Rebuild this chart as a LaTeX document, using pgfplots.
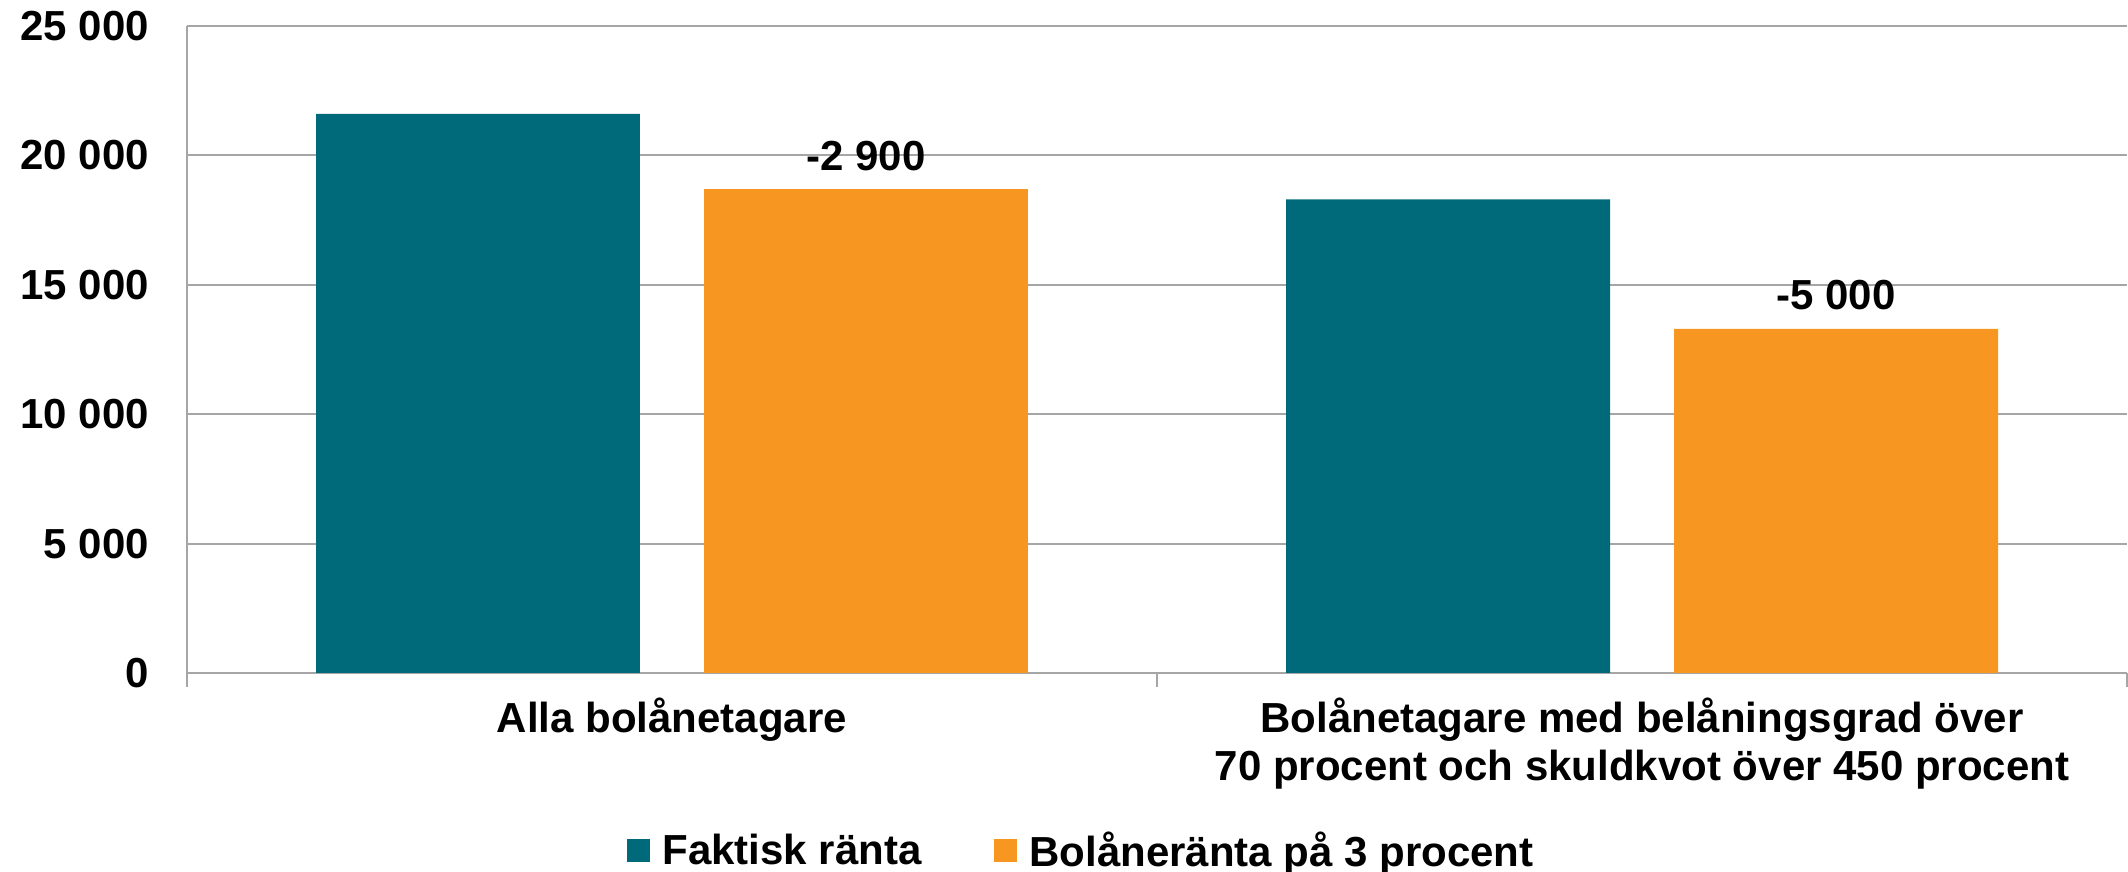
\documentclass[border=0pt]{standalone}
\usepackage{fontspec}
\setmainfont{Liberation Sans}
\usepackage{pgfplots}
\pgfplotsset{compat=1.18}
\definecolor{teal1}{RGB}{0,106,122}
\definecolor{orange1}{RGB}{247,151,33}
\definecolor{gridc}{RGB}{166,166,166}
\begin{document}
\begin{tikzpicture}
\begin{axis}[
  scale only axis, width=485pt, height=161.75pt,
  xmin=-0.5, xmax=1.5, ymin=0, ymax=25000,
  scaled y ticks=false,
  axis lines=left, axis line style={-, draw=gridc, line width=0.5pt},
  ymajorgrids, grid style={draw=gridc, line width=0.5pt},
  ytick={0,5000,10000,15000,20000,25000},
  yticklabels={0,5 000,10 000,15 000,20 000,25 000},
  ytick style={draw=none},
  xtick={-0.5,0.5,1.5}, xticklabels={},
  xtick style={draw=gridc, line width=0.5pt},
  tick align=outside, major tick length=3.5pt,
  extra x ticks={0,1},
  extra x tick labels={Alla bolånetagare, {Bolånetagare med belåningsgrad över\\70 procent och skuldkvot över 450 procent}},
  extra x tick style={major tick length=0pt, xticklabel style={align=center, anchor=north, inner sep=0pt, yshift=-6pt}},
  ticklabel style={font=\fontsize{10.5}{12}\selectfont\bfseries},
  yticklabel style={inner sep=0pt, xshift=-5.8pt},
  ybar, bar width=0.334, bar shift=0,
  legend style={at={(0.4625,-0.2767)}, anchor=center, draw=none, legend columns=2,
    font=\fontsize{10.5}{12}\selectfont\bfseries,
    /tikz/every odd column/.append style={column sep=1.2pt},
    /tikz/every even column/.append style={column sep=16pt}},
  legend image code/.code={\fill[#1] (0pt,-2.4pt) rectangle (5.75pt,3.35pt);},
]
\addplot[fill=teal1, draw=none] coordinates {(-0.2,21600) (0.8,18300)};
\addlegendentry{Faktisk ränta}
\addplot[fill=orange1, draw=none, point meta=explicit symbolic,
  nodes near coords={\pgfplotspointmeta},
  nodes near coords style={anchor=base, yshift=4.75pt, inner sep=0pt, text=black,
    font=\fontsize{10.5}{12}\selectfont\bfseries}]
  coordinates {(0.2,18700) [-2 900] (1.2,13300) [-5 000]};
\addlegendentry{Bolåneränta på 3 procent}
\coordinate (bl) at (rel axis cs:0,0);
\coordinate (tr) at (rel axis cs:1,1);
\end{axis}
\pgfresetboundingbox
\path ([shift={(-46.75pt,-49.75pt)}]bl) rectangle ([shift={(0.25pt,6.5pt)}]tr);
\end{tikzpicture}
\end{document}
